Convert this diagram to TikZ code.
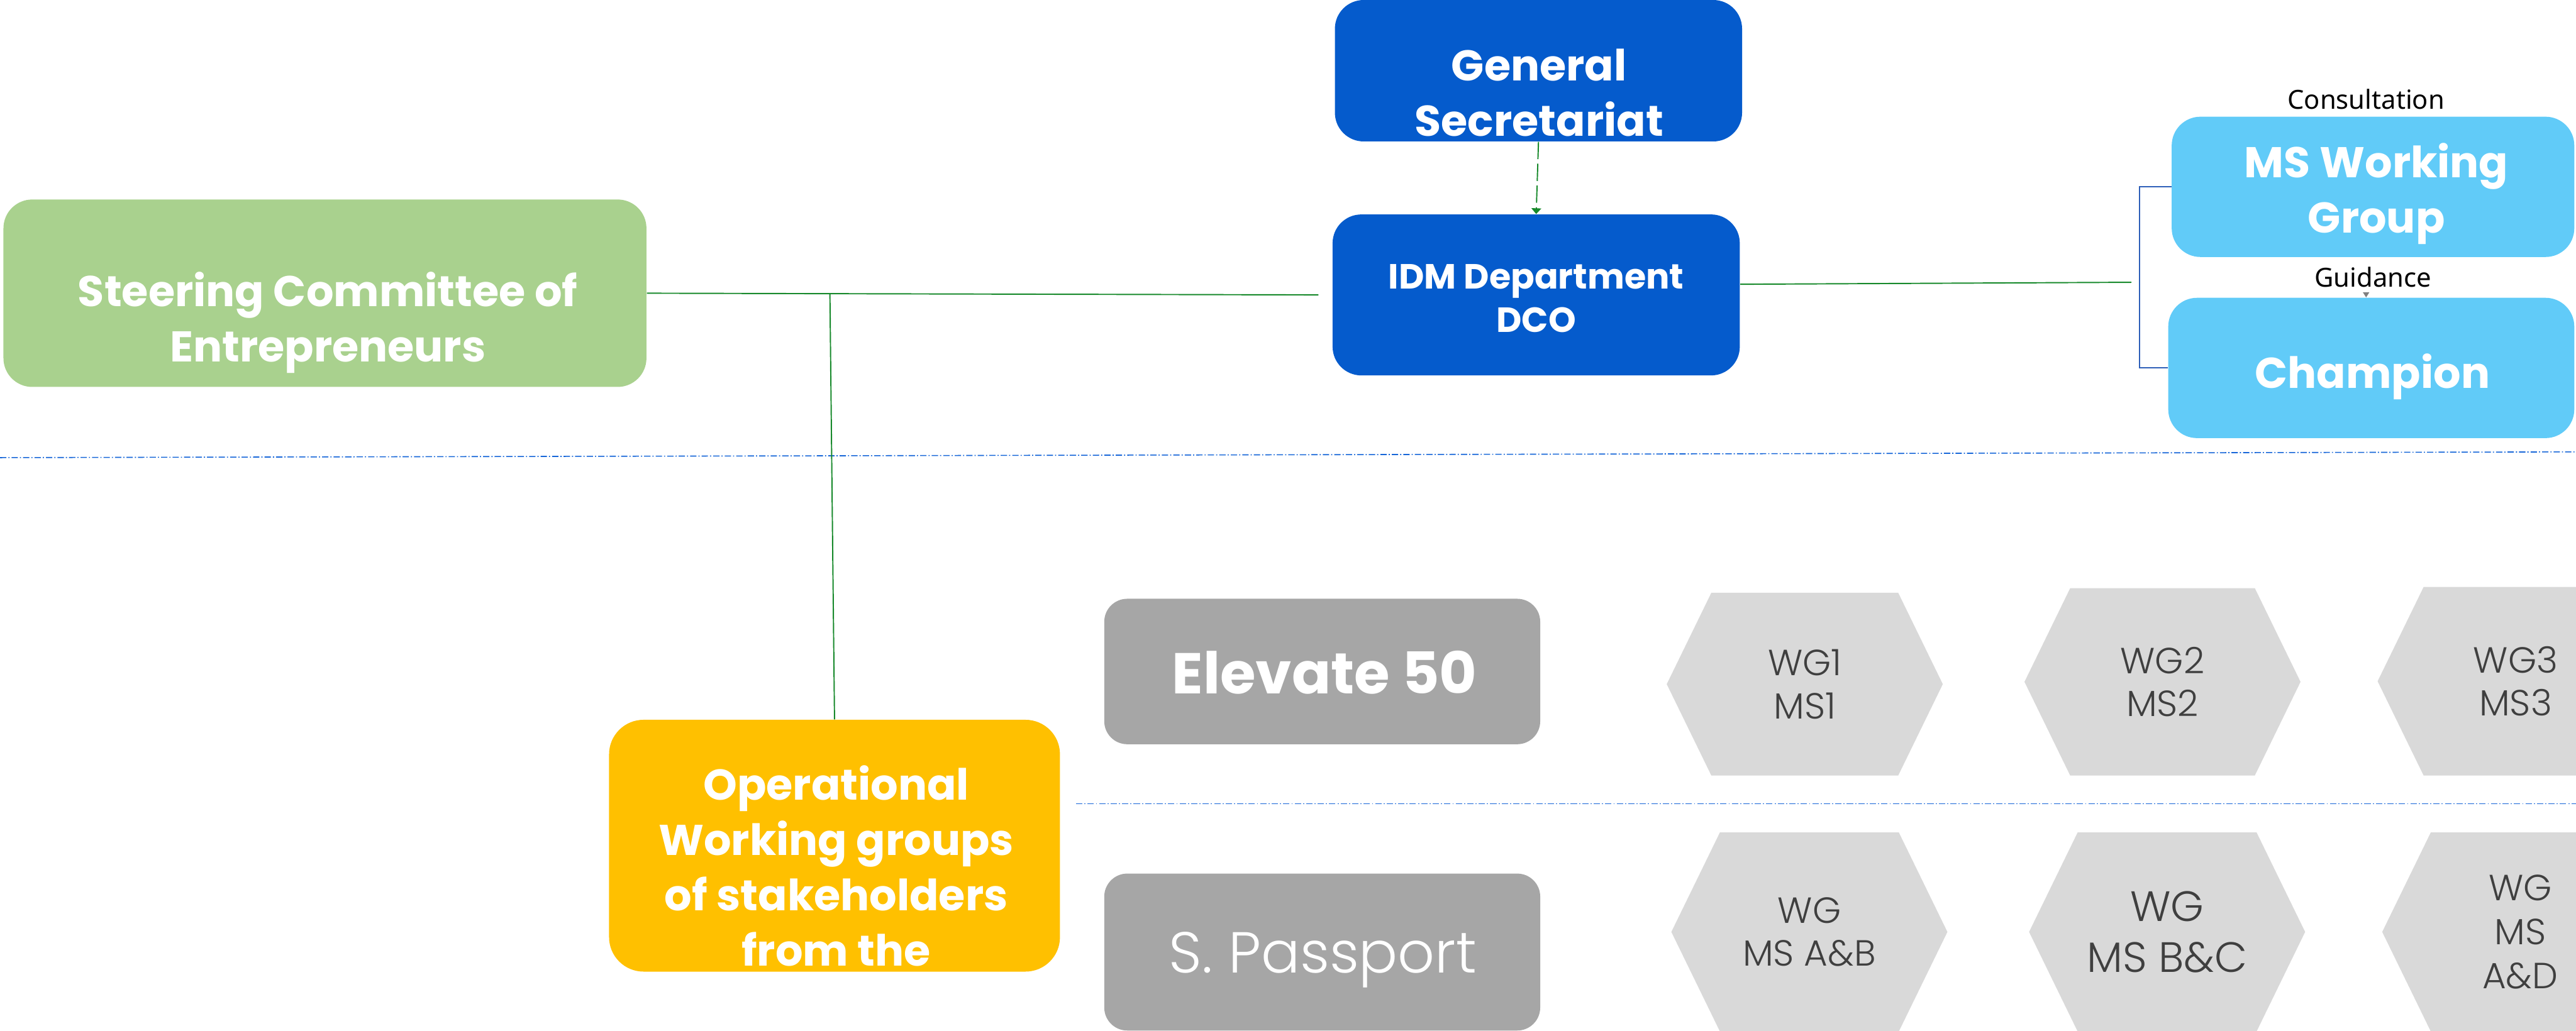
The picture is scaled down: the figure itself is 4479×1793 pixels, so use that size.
\documentclass[tikz,border=0pt]{standalone}
\usepackage{fontspec}
\setmainfont{Poppins}
\newfontfamily\lightfont{Poppins Light}
\newfontfamily\labelfont{Noto Sans}
\usetikzlibrary{shapes,arrows.meta}

\definecolor{secblue}{HTML}{055BCC}
\definecolor{wgblue}{HTML}{61CBF8}
\definecolor{steergreen}{HTML}{A9D18E}
\definecolor{opgold}{HTML}{FFC000}
\definecolor{boxgray}{HTML}{A6A6A6}
\definecolor{hexgray}{HTML}{D9D9D9}
\definecolor{hextext}{HTML}{3F3F3F}
\definecolor{linkgreen}{HTML}{17892B}
\definecolor{brblue}{HTML}{2E5FB8}
\definecolor{sepblue}{HTML}{1565D8}

\begin{document}
\begin{tikzpicture}[x=0.1mm, y=-0.1mm,
    box/.style={rounded corners=5mm, inner sep=0pt},
    big/.style={text=white, align=center, font=\bfseries\fontsize{21.3}{27.4}\selectfont},
    hex/.style={signal, signal to=east and west, signal pointer angle=128, fill=hexgray,
        text=hextext, align=center, minimum width=48mm, inner sep=0pt},
    link/.style={linkgreen, line width=0.6pt},
    sepline/.style={sepblue, line width=0.5pt, dash pattern=on 1.1mm off 0.35mm on 0.2mm off 0.35mm},
    tag/.style={font=\labelfont\fontsize{13}{15}\selectfont}]
\useasboundingbox (0,0) rectangle (4479,1793);

\draw [sepline] (0,796) -- (4479,786);
\draw [sepline] (1871,1398) -- (4479,1398);

% top row
\node[box, fill=steergreen, minimum width=111.8mm, minimum height=32.6mm] (steer) at (565,510) {};
\node[big] (steer-t) at (570,561) {Steering Committee of\\Entrepreneurs};
\node[box, fill=secblue, minimum width=70.8mm, minimum height=24.6mm] (gensec) at (2675,123) {};
\node[big] (gensec-t) at (2676,161) {General\\Secretariat};
\node[box, fill=secblue, minimum width=70.8mm, minimum height=28mm] (idm) at (2671,513) {};
\node[big, font=\bfseries\fontsize{17.3}{21.3}\selectfont] (idm-t) at (2671,519) {IDM Department\\DCO};
\node[box, fill=wgblue, minimum width=70mm, minimum height=24.4mm] (mswg) at (4126,325) {};
\node[big] (mswg-t) at (4132,337) {MS Working\\Group};
\node[box, fill=wgblue, minimum width=70.6mm, minimum height=24.4mm] (champ) at (4123,640) {};
\node[big] (champ-t) at (4125,655) {Champion};
\node[tag] (consult) at (4114,173) {Consultation};
\node[tag] (guide) at (4126,482) {Guidance};

% operational level
\node[box, fill=opgold, rounded corners=6mm, minimum width=78.4mm, minimum height=43.8mm] (oper) at (1451,1471) {};
\node[big] (oper-t) at (1454,1506) {Operational\\Working groups\\of stakeholders\\from the};
\node[box, rounded corners=4mm, fill=boxgray, minimum width=75.8mm, minimum height=25.3mm] (elev) at (2299,1168) {};
\node[text=white, font=\bfseries\fontsize{28.5}{34}\selectfont] (elev-t) at (2303,1170) {Elevate 50};
\node[box, rounded corners=4mm, fill=boxgray, minimum width=75.8mm, minimum height=27.3mm] (pass) at (2299,1656) {};
\node[text=white, font=\lightfont\fontsize{28.6}{34}\selectfont] (pass-t) at (2300,1670) {S. Passport};

\foreach \name/\x/\y/\h/\fs/\bs/\txt in {wg1/3138/1190/31.8/18/21.3/{WG1\\MS1}, wg2/3760/1186/32.6/18/21.3/{WG2\\MS2},
    wg3/4374/1185/32.8/18/21.3/{WG3\\MS3}, wgab/3146/1621/34.6/18/21.3/{WG\\MS A\&B},
    wgbc/3768/1621/34.6/21/25.3/{WG\\MS B\&C}, wgad/4382/1621/34.6/18/21.9/{WG\\MS\\A\&D}} {
    \node[hex, minimum height=\h mm, font=\lightfont\fontsize{\fs}{\bs}\selectfont] (\name) at (\x,\y) {\txt};
}

% links
\coordinate (split) at (1443,511);
\draw [link, shorten >=2.4mm] (steer.east) -- (idm.west);
\draw [link] (split) -- (oper.north);
\coordinate (fork) at (3706,491);
\draw [link] (idm.3) -- (fork);
\draw [brblue, line width=0.6pt] (mswg.west) -- ++(-55,0) |- (champ.west);
\draw [linkgreen, line width=0.6pt, dash pattern=on 3mm off 0.8mm, -{Triangle[width=1.7mm,length=1mm]}] (gensec.south) -- (idm.north);
\draw [gray, line width=0.4pt, -{Triangle[width=1.1mm,length=0.9mm]}] (guide.south) ++(-12,0) -- (champ.north -| 4114,0);
\end{tikzpicture}
\end{document}
